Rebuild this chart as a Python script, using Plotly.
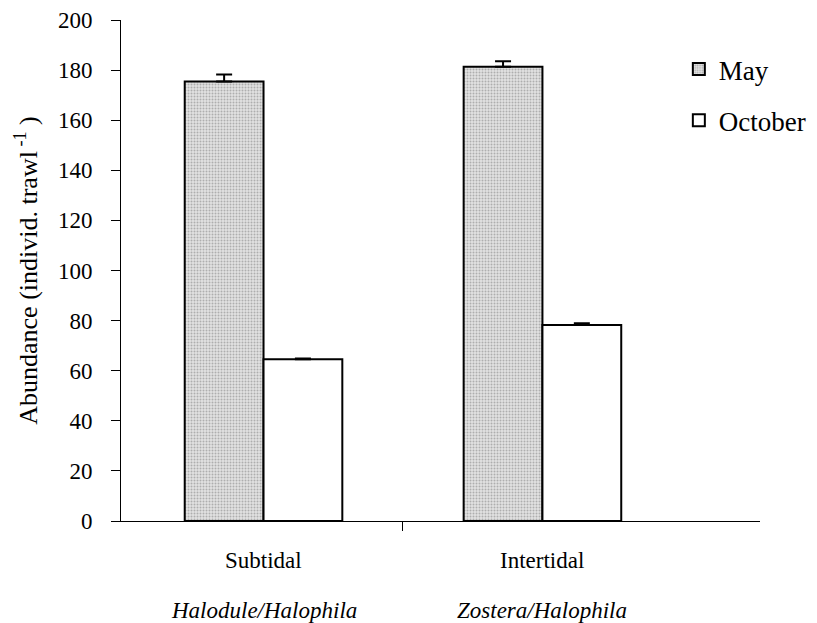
import plotly.graph_objects as go

# Data
habitats = ["Subtidal", "Intertidal"]
seagrass = ["Halodule/Halophila", "Zostera/Halophila"]
may_values = [175.4, 181.3]
may_errors = [2.8, 2.2]
october_values = [64.6, 78.2]
october_errors = [0.3, 0.7]

FONT = "Times New Roman, Liberation Serif, serif"
x_pos = list(range(len(habitats)))

fig = go.Figure()
fig.add_trace(go.Bar(
    x=x_pos,
    y=may_values,
    name="May",
    legendgroup="may",
    marker=dict(
        color="white",
        line=dict(color="black", width=2),
        pattern=dict(shape=".", fgcolor="#7a7a7a", bgcolor="#e2e2e2",
                     size=3, solidity=0.35),
    ),
    error_y=dict(type="data", array=may_errors, symmetric=False,
                 arrayminus=[0, 0], color="black", thickness=2, width=8),
))
fig.add_trace(go.Bar(
    x=x_pos,
    y=october_values,
    name="October",
    legendgroup="oct",
    marker=dict(color="white", line=dict(color="black", width=2)),
    error_y=dict(type="data", array=october_errors, symmetric=False,
                 arrayminus=[0, 0], color="black", thickness=2, width=8),
))

# category labels below the axis
for i, (hab, sg) in enumerate(zip(habitats, seagrass)):
    fig.add_annotation(x=i, y=-0.078, xref="x", yref="paper", text=hab,
                       yanchor="middle", showarrow=False,
                       font=dict(family=FONT, size=23, color="black"))
    fig.add_annotation(x=i, y=-0.178, xref="x", yref="paper", text=f"<i>{sg}</i>",
                       yanchor="middle", showarrow=False,
                       font=dict(family=FONT, size=23, color="black"))

# margins allow for the 8px page margin around the plot div
fig.update_layout(
    width=817,
    height=623,
    barmode="group",
    bargap=0.435,
    bargroupgap=0,
    paper_bgcolor="white",
    plot_bgcolor="white",
    font=dict(family=FONT, size=23, color="black"),
    margin=dict(l=113, r=65, t=12, b=110, autoexpand=False),
    showlegend=True,
    legend=dict(
        x=0.873, y=0.95, xanchor="left", yanchor="top",
        font=dict(family=FONT, size=27, color="black"),
        bgcolor="rgba(0,0,0,0)",
        itemwidth=30,
        traceorder="grouped",
        tracegroupgap=13,
    ),
    xaxis=dict(
        range=[-0.511, 1.78],
        tickmode="array",
        tickvals=[0.5],
        ticktext=[""],
        ticks="outside",
        ticklen=9,
        tickcolor="black",
        showline=True,
        linecolor="black",
        linewidth=1,
        showgrid=False,
        zeroline=False,
        automargin=False,
    ),
    yaxis=dict(
        range=[0, 200],
        tickvals=list(range(0, 201, 20)),
        ticks="outside",
        ticklen=9,
        tickcolor="black",
        ticklabelstandoff=14,
        showline=True,
        linecolor="black",
        linewidth=1,
        showgrid=False,
        zeroline=False,
        automargin=False,
        title=dict(text="Abundance (individ. trawl<sup> -1</sup> )",
                   font=dict(family=FONT, size=26), standoff=12),
    ),
)

fig.write_html("out.html")
